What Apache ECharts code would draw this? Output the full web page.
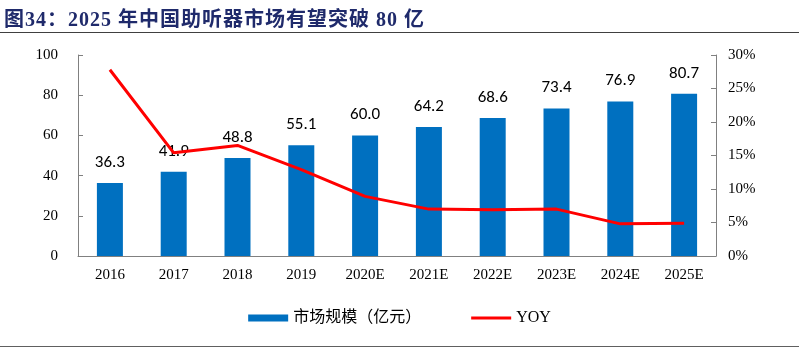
<!DOCTYPE html>
<html><head><meta charset="utf-8">
<script src="https://cdn.jsdelivr.net/npm/echarts@6/dist/echarts.min.js"></script>
<style>
html,body{margin:0;padding:0;background:#fff;}
#wrap{position:relative;width:799px;height:351px;}
#title{position:absolute;left:4px;top:3px;font-family:"Liberation Serif","Noto Sans CJK SC",serif;font-weight:bold;font-size:20px;letter-spacing:1px;color:#1F2A6B;white-space:nowrap;}
#line1{position:absolute;left:0;top:32px;width:799px;height:1px;background:#404040;}
#line2{position:absolute;left:0;top:346px;width:799px;height:1px;background:#606060;}
#chart{position:absolute;left:0;top:0;width:799px;height:351px;}
</style></head>
<body><div id="wrap">
<div id="chart"></div>
<div id="title">图34：2025 年中国助听器市场有望突破 80 亿</div>
<div id="line1"></div><div id="line2"></div>
</div>
<script>
const categories = ['2016','2017','2018','2019','2020E','2021E','2022E','2023E','2024E','2025E'];
const marketSize = [36.3,41.9,48.8,55.1,60.0,64.2,68.6,73.4,76.9,80.7];
const yoy = [27.8,15.4,16.5,12.9,8.9,7.0,6.9,7.0,4.8,4.9];
const leftTicks = [0,20,40,60,80,100];
const rightTicks = [0,5,10,15,20,25,30];

const chart = echarts.init(document.getElementById('chart'));
const serif = '"Liberation Serif","Times New Roman",serif';
chart.setOption({
  animation:false,
  grid:{left:78,right:83,top:55,bottom:95},
  legend:{
    bottom:20,left:'center',itemGap:50,itemWidth:40,itemHeight:7,
    textStyle:{fontFamily:'"Liberation Serif","Noto Sans CJK SC",serif',fontSize:16,color:'#000'},
    data:[{name:'市场规模（亿元）',icon:'rect'},{name:'YOY',icon:'path://M0,0H40V3H0Z'}]
  },
  xAxis:{type:'category',data:categories,
    axisLine:{lineStyle:{color:'#808080',width:1}},axisTick:{show:false},
    axisLabel:{fontFamily:serif,fontSize:15,color:'#000',margin:12}},
  yAxis:[
    {type:'value',min:leftTicks[0],max:leftTicks[leftTicks.length-1],interval:20,
     axisLine:{show:true,lineStyle:{color:'#808080'}},axisTick:{show:true,inside:true,length:5},
     splitLine:{show:false},
     axisLabel:{fontFamily:serif,fontSize:15,color:'#000',margin:20}},
    {type:'value',min:rightTicks[0],max:rightTicks[rightTicks.length-1],interval:5,position:'right',
     axisLine:{show:true,lineStyle:{color:'#808080'}},axisTick:{show:true,inside:true,length:5},
     splitLine:{show:false},
     axisLabel:{fontFamily:serif,fontSize:15,color:'#000',margin:12,formatter:'{value}%'}}
  ],
  series:[
    {name:'市场规模（亿元）',type:'bar',data:marketSize,barWidth:26,
     itemStyle:{color:'#0070C0'},
     label:{show:true,position:'top',distance:12,fontFamily:'Carlito,"Liberation Sans",sans-serif',fontSize:17,color:'#000',
       formatter:p=>p.value.toFixed(1)}},
    {name:'YOY',type:'line',yAxisIndex:1,data:yoy,symbol:'none',
     lineStyle:{color:'#FF0000',width:3},itemStyle:{color:'#FF0000'}}
  ]
});
</script></body></html>
